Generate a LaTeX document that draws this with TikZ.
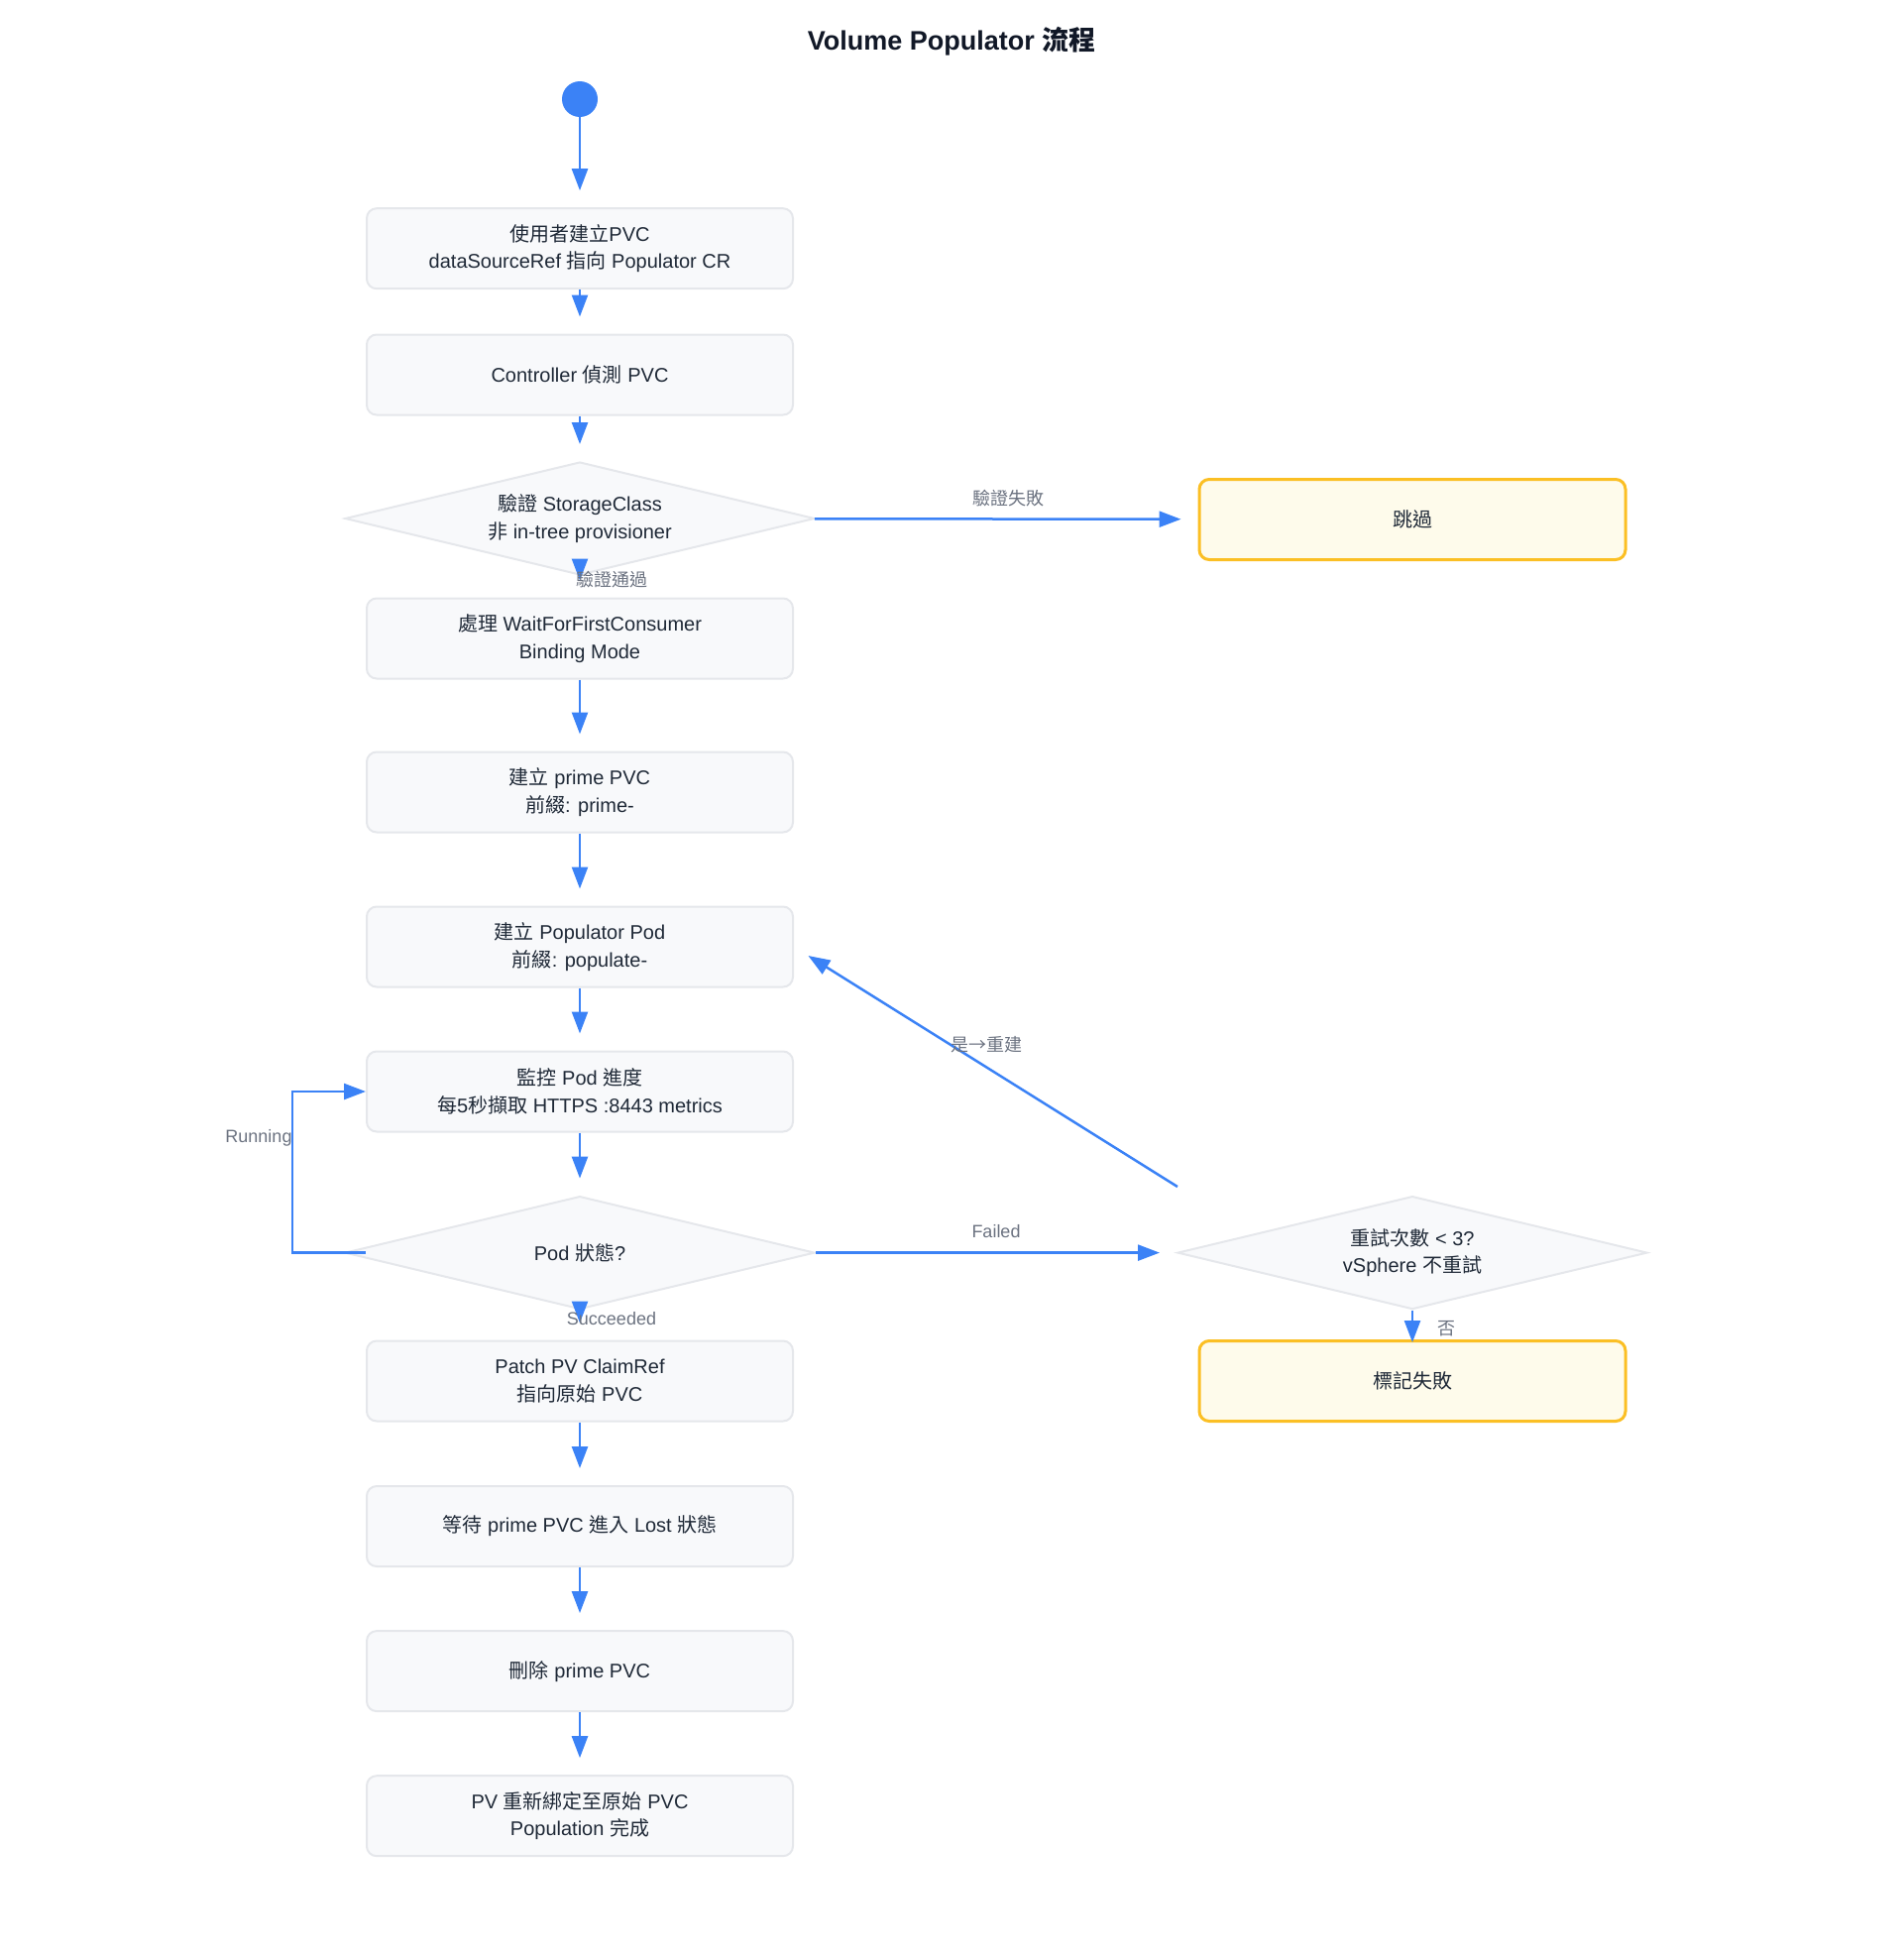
\documentclass[tikz,border=0pt]{standalone}
\usepackage{fontspec}
\setmainfont{Liberation Sans}
\newfontfamily\cjk{Noto Sans CJK TC}
\usetikzlibrary{arrows.meta,shapes.geometric,calc}
\definecolor{flow}{HTML}{3B82F6}
\definecolor{boxfill}{HTML}{F8F9FB}
\definecolor{boxline}{HTML}{E5E7EB}
\definecolor{txt}{HTML}{1F2937}
\definecolor{lbl}{HTML}{6B7280}
\definecolor{warnfill}{HTML}{FEFBEB}
\definecolor{warnline}{HTML}{FBBF24}
\definecolor{titlecol}{HTML}{111827}
\newcommand\zh[1]{{\cjk #1}}
\begin{document}
\begin{tikzpicture}[x=1pt,y=-1pt,
  proc/.style={draw=boxline, line width=2pt, fill=boxfill, rounded corners=10pt,
    minimum width=430pt, minimum height=81pt, align=center, text=txt,
    font=\fontsize{20}{27.7}\selectfont, inner sep=0pt},
  warn/.style={proc, draw=warnline, fill=warnfill, line width=3pt},
  decide/.style={diamond, draw=boxline, line width=2pt, fill=boxfill,
    minimum width=474pt, minimum height=114pt, aspect=4.16, align=center, text=txt,
    font=\fontsize{20}{27.7}\selectfont, inner sep=0pt},
  flowarrow/.style={draw=flow, line width=2.5pt, -{Triangle[length=22pt,width=16pt]}, shorten >=17pt},
  elabel/.style={text=lbl, font=\fontsize{18}{22}\selectfont, inner sep=0pt}
]
\useasboundingbox (0,0) rectangle (1920,1975);

\node[font=\fontsize{27}{32}\selectfont\bfseries, text=titlecol] (title) at (960,42) {Volume Populator \zh{流程}};

\node[circle, fill=flow, minimum size=36pt, inner sep=0pt] (start) at (585,100) {};

\node[proc] (n1) at (585,250.7) {\zh{使用者建立}PVC\\dataSourceRef \zh{指向} Populator CR};
\node[proc] (n2) at (585,378) {Controller \zh{偵測} PVC};
\node[decide] (d1) at (585,523) {\zh{驗證} StorageClass\\\zh{非} in-tree provisioner};
\node[proc] (n3) at (585,644) {\zh{處理} WaitForFirstConsumer\\Binding Mode};
\node[proc] (n4) at (585,799) {\zh{建立} prime PVC\\\zh{前綴}: prime-};
\node[proc] (n5) at (585,955) {\zh{建立} Populator Pod\\\zh{前綴}: populate-};
\node[proc] (n6) at (585,1101) {\zh{監控} Pod \zh{進度}\\\zh{每}5\zh{秒擷取} HTTPS :8443 metrics};
\node[decide] (d2) at (585,1263.6) {Pod \zh{狀態}?};
\node[proc] (n7) at (585,1393) {Patch PV ClaimRef\\\zh{指向原始} PVC};
\node[proc] (n8) at (585,1539.5) {\zh{等待} prime PVC \zh{進入} Lost \zh{狀態}};
\node[proc] (n9) at (585,1685.6) {\zh{刪除} prime PVC};
\node[proc] (n10) at (585,1831.7) {PV \zh{重新綁定至原始} PVC\\Population \zh{完成}};

\node[warn] (skip) at (1425,524) {\zh{跳過}};
\node[decide] (d3) at (1425,1263.6) {\zh{重試次數} < 3?\\vSphere \zh{不重試}};
\node[warn] (fail) at (1425,1393) {\zh{標記失敗}};

\coordinate (retryout) at (1188,1197);
\coordinate (runout) at ($(d2.west)+(22,0)$);

\draw[flowarrow] (start) -- (n1);
\draw[flowarrow] (n1) -- (n2);
\draw[flowarrow] (n2) -- (d1);
\draw[flowarrow] (d1) -- (n3);
\draw[flowarrow] (d1) -- (skip);
\draw[flowarrow] (n3) -- (n4);
\draw[flowarrow] (n4) -- (n5);
\draw[flowarrow] (n5) -- (n6);
\draw[flowarrow] (n6) -- (d2);
\draw[flowarrow] (d2) -- (n7);
\draw[flowarrow] (d2) -- (d3);
\draw[flowarrow, shorten >=0pt] (runout) -- ++(-74,0) |- (n6.west);
\draw[flowarrow, shorten >=-3pt] (d3) -- (fail);
\draw[flowarrow] (retryout) -- (n5.east);
\draw[flowarrow] (n7) -- (n8);
\draw[flowarrow] (n8) -- (n9);
\draw[flowarrow] (n9) -- (n10);

\node[elabel] (l1) at (1017,503) {\zh{驗證失敗}};
\node[elabel] (l2) at (617,585) {\zh{驗證通過}};
\node[elabel] (l3) at (1005,1242) {Failed};
\node[elabel] (l4) at (995,1054) {\zh{是→重建}};
\node[elabel] (l5) at (261,1148) {Running};
\node[elabel] (l6) at (617,1330) {Succeeded};
\node[elabel] (l7) at (1459,1340) {\zh{否}};
\end{tikzpicture}
\end{document}
